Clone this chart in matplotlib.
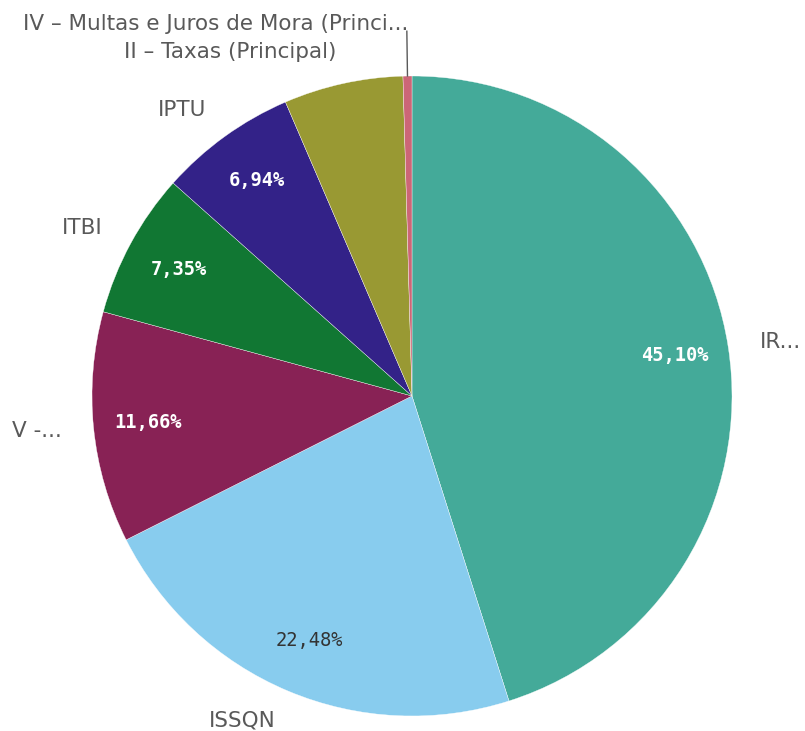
import matplotlib
matplotlib.use("Agg")
import matplotlib.pyplot as plt
import numpy as np

categories = ["IR...", "ISSQN", "V -...", "ITBI", "IPTU",
              "II – Taxas (Principal)", "IV – Multas e Juros de Mora (Princi..."]
values = [45.10, 22.48, 11.66, 7.35, 6.94, 6.02, 0.45]
colors = ["#44aa99", "#88ccee", "#882255", "#117733", "#332288", "#999933", "#cc6677"]
pct_colors = ["white", "#333333", "white", "white", "white", "white", "white"]

W, H = 805, 731
fig = plt.figure(figsize=(W / 100, H / 100), dpi=100)
ax = fig.add_axes([0, 0, 1, 1])

cx, cy, r = 412, H - 396, 320

def fmt(p):
    return f"{p:.2f}".replace(".", ",") + "%" if p > 6.5 else ""

wedges, texts, autotexts = ax.pie(
    values, labels=categories, colors=colors, startangle=90, counterclock=False,
    center=(cx, cy), radius=r, labeldistance=1.10, pctdistance=0.83,
    autopct=fmt, wedgeprops=dict(edgecolor="white", linewidth=0.25),
    textprops=dict(color="#595959", fontsize=15.5), frame=True)
ax.set_xlim(0, W)
ax.set_ylim(0, H)
ax.axis("off")

for t in texts:
    x, y = t.get_position()
    t.set_ha("left" if x > cx else "right")

for t, c in zip(autotexts, pct_colors):
    t.set_color(c)
    t.set_fontsize(13.5)
    t.set_fontweight("bold" if c == "white" else "normal")
    t.set_family("DejaVu Sans Mono")

# leader line for the smallest slice
w = wedges[-1]
mid = np.deg2rad((w.theta1 + w.theta2) / 2)
p0 = (cx + r * np.cos(mid), cy + r * np.sin(mid))
p1 = (cx + 1.14 * r * np.cos(mid), cy + 1.14 * r * np.sin(mid))
ax.plot([p0[0], p1[0]], [p0[1], p1[1]], color="#595959", lw=1)
texts[-1].set_position((p1[0] + 2, p1[1] + 7))
texts[-1].set_ha("right")
texts[-1].set_va("center")

fig.savefig("out.png", dpi=100)
